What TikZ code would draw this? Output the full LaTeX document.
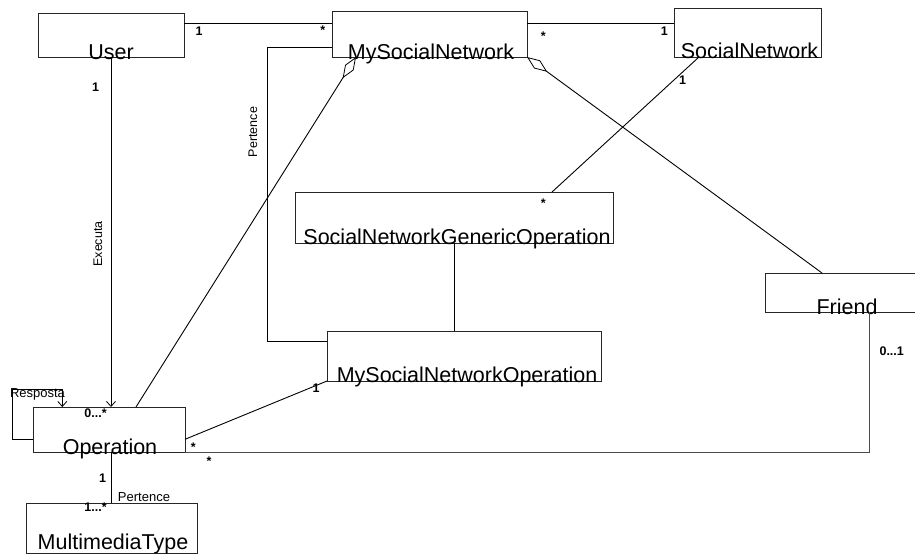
\documentclass[tikz,border=0pt]{standalone}
\usepackage{fontspec}
\setmainfont{Liberation Sans}
\usetikzlibrary{arrows.meta,calc}
\begin{document}
\begin{tikzpicture}[x=1pt,y=-1pt,line width=0.9pt]
\tikzset{
  cbox/.style={draw=black!85,inner sep=0pt,outer sep=0pt},
  cname/.style={anchor=base,inner sep=0pt,font=\fontsize{21.5}{25}\selectfont},
  mult/.style={anchor=base,inner sep=0pt,font=\fontsize{12.5}{14}\bfseries\selectfont},
  rolelbl/.style={inner sep=0pt,font=\fontsize{13}{15}\selectfont},
  vlbl/.style={inner sep=0pt,rotate=90,font=\fontsize{12.5}{14}\selectfont},
  conn/.style={draw=black},
  openarrow/.style={-{Straight Barb[length=5pt,width=9pt,line width=0.8pt]}},
  aggr/.style={{Diamond[open,length=25pt,width=10pt,line width=0.8pt]}-},
}
\path[use as bounding box] (0,0) rectangle (915,554);
\clip (0,0) rectangle (915,554);
\fill[white] (0,0) rectangle (915,554);

% classes
\node[cbox,minimum width=146pt,minimum height=44pt] (user) at (111,35) {};
\node[cbox,minimum width=195pt,minimum height=46pt] (msn) at (429.5,34) {};
\node[cbox,minimum width=147pt,minimum height=49pt] (sn) at (747.5,32.5) {};
\node[cbox,minimum width=318pt,minimum height=51pt] (sngo) at (454,217.5) {};
\node[cbox,minimum width=274pt,minimum height=50pt] (msno) at (464,356) {};
\node[cbox,minimum width=164pt,minimum height=39pt] (friend) at (847,292.5) {};
\node[cbox,minimum width=152pt,minimum height=45pt] (op) at (109,429.5) {};
\node[cbox,minimum width=171pt,minimum height=50pt] (mmt) at (111.5,528) {};

\node[cname] (usert) at ([yshift=-2pt]user.south) {User};
\node[cname] (msnt) at ([xshift=1.5pt,yshift=-2pt]msn.south) {MySocialNetwork};
\node[cname] (snt) at ([xshift=2pt,yshift=-1pt]sn.south) {SocialNetwork};
\node[cname] (sngot) at ([xshift=3pt,yshift=-1pt]sngo.south) {SocialNetworkGenericOperation};
\node[cname] (msnot) at ([xshift=3pt,yshift=-1pt]msno.south) {MySocialNetworkOperation};
\node[cname] (friendt) at ([yshift=-2pt]friend.south) {Friend};
\node[cname] (opt) at ([xshift=1pt,yshift=-2pt]op.south) {Operation};
\node[cname] (mmtt) at ([xshift=1.5pt,yshift=4pt]mmt.south) {MultimediaType};

% connectors
\draw[conn] ([yshift=-10.3pt]user.north east) coordinate (c1) -- (c1 -| msn.west);
\draw[conn] ([yshift=-12.3pt]msn.north east) coordinate (c2) -- (c2 -| sn.west);
\draw[conn,openarrow] (user.south) -- (user.south |- op.north);
\draw[conn,aggr] ([xshift=24pt]msn.south west) -- ([xshift=103pt]op.north west);
\draw[conn,aggr] (msn.south east) -- ([xshift=57pt]friend.north west);
\draw[conn] ([xshift=25pt]sn.south west) -- ([xshift=257pt]sngo.north west);
\draw[conn] (sngo.south) -- (sngo.south |- msno.north);
\draw[conn] ([yshift=9.7pt]msn.south west) -- ++(-64.3,0) |- ([yshift=-10.3pt]msno.north west);
\draw[conn,openarrow] ([yshift=-9.8pt]op.west) -- ++(-20.7,0) |- ([xshift=29.3pt,yshift=17.7pt]op.north west) -- ([xshift=29.3pt]op.north west);
\draw[conn] ([yshift=-9.8pt]op.east) -- (msno.south west);
\draw[conn,draw=black!70] (op.south east) -| ([xshift=104.3pt]friend.south west);
\draw[conn] ([xshift=2.7pt]op.south) coordinate (c3) -- (c3 |- mmt.north);

% multiplicities
\node[mult] (m1) at (199,35.5) {1};
\node[mult] (m2) at (322.7,34) {*};
\node[mult] (m3) at (543.3,40.3) {*};
\node[mult] (m4) at (664.3,35.5) {1};
\node[mult] (m5) at (95.7,91) {1};
\node[mult] (m6) at (682.7,84.5) {1};
\node[mult] (m7) at (543.3,207.3) {*};
\node[mult] (m8) at (95.5,417.5) {0...*};
\node[mult] (m9) at (316,392.5) {1};
\node[mult] (m10) at (193.3,451.3) {*};
\node[mult] (m11) at (209,465.6) {*};
\node[mult] (m12) at (891.7,355) {0...1};
\node[mult] (m13) at (102.7,482.5) {1};
\node[mult] (m14) at (95.5,511) {1...*};

% role labels
\node[rolelbl] (resp) at (37.5,394) {Resposta};
\node[rolelbl] (pert) at (144,496.7) {Pertence};
\node[vlbl] (exec) at (98,244) {Executa};
\node[vlbl] (pert2) at (253,132) {Pertence};
\end{tikzpicture}
\end{document}
